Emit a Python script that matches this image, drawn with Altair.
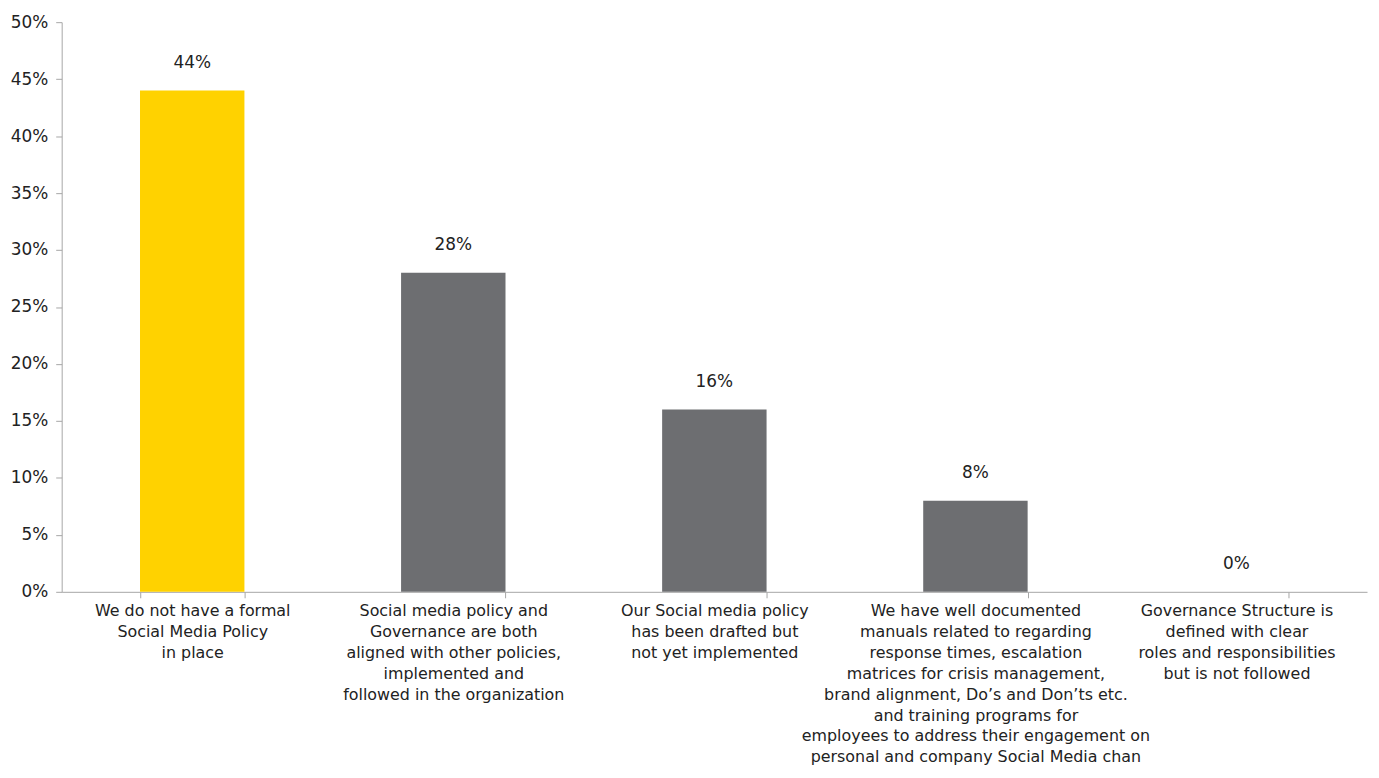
import altair as alt
import pandas as pd

categories = [
    "We do not have a formal|Social Media Policy|in place",
    "Social media policy and|Governance are both|aligned with other policies,|implemented and|followed in the organization",
    "Our Social media policy|has been drafted but|not yet implemented",
    "We have well documented|manuals related to regarding|response times, escalation|matrices for crisis management,|brand alignment, Do\u2019s and Don\u2019ts etc.|and training programs for|employees to address their engagement on|personal and company Social Media chan",
    "Governance Structure is|defined with clear|roles and responsibilities|but is not followed",
]
values = [0.44, 0.28, 0.16, 0.08, 0.0]
colors = ["#FFD200", "#6D6E71", "#6D6E71", "#6D6E71", "#6D6E71"]

df = pd.DataFrame({"cat": categories, "value": values, "color": colors})

FONT = "DejaVu Sans"

x = alt.X(
    "cat:N",
    sort=categories,
    title=None,
    scale=alt.Scale(paddingInner=0.6, paddingOuter=0.3),
    axis=alt.Axis(
        labelExpr="split(datum.label, '|')",
        labelAngle=0,
        labelFont=FONT,
        labelFontSize=16,
        labelColor="#222222",
        labelLineHeight=21,
        labelPadding=5,
        labelLimit=0,
        tickBand="extent",
        tickSize=6,
        tickColor="#A6A6A6",
        domainColor="#A6A6A6",
        labelBaseline="top",
    ),
)

y = alt.Y(
    "value:Q",
    title=None,
    scale=alt.Scale(domain=[0, 0.5], nice=False),
    axis=alt.Axis(
        values=[0, 0.05, 0.1, 0.15, 0.2, 0.25, 0.3, 0.35, 0.4, 0.45, 0.5],
        format=".0%",
        grid=False,
        labelFont=FONT,
        labelFontSize=17,
        labelColor="#222222",
        tickSize=6,
        tickColor="#A6A6A6",
        domainColor="#A6A6A6",
        labelPadding=8,
    ),
)

bars = alt.Chart(df).mark_bar().encode(
    x=x, y=y, color=alt.Color("color:N", scale=None)
)

text = alt.Chart(df).mark_text(
    dy=-19, font=FONT, fontSize=17, color="#222222", baseline="bottom"
).encode(
    x=alt.X("cat:N", sort=categories),
    y="value:Q",
    text=alt.Text("value:Q", format=".0%"),
)

chart = (bars + text).properties(
    width=1313,
    height=573,
    autosize=alt.AutoSizeParams(type="none"),
    padding={"left": 54, "top": 12, "right": 4, "bottom": 180},
).configure(background="white").configure_view(stroke=None, strokeWidth=0)

chart.save("out.html", embed_options={"renderer": "svg", "actions": False})
